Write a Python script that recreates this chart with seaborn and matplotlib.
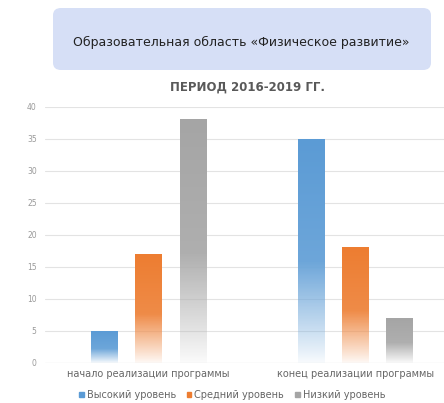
import numpy as np
import pandas as pd
import matplotlib
matplotlib.use("Agg")
import matplotlib.pyplot as plt
from matplotlib.patches import FancyBboxPatch, Rectangle
from matplotlib.colors import to_rgb
import seaborn as sns

categories = ["начало реализации программы", "конец реализации программы"]
levels = ["Высокий уровень", "Средний уровень", "Низкий уровень"]
high_vals = [5, 35]
mid_vals = [17, 18]
low_vals = [38, 7]
colors = ["#5B9BD5", "#ED7D31", "#A5A5A5"]
y_ticks = [0, 5, 10, 15, 20, 25, 30, 35, 40]

rows = []
for lvl, vals in zip(levels, [high_vals, mid_vals, low_vals]):
    for cat, v in zip(categories, vals):
        rows.append({"cat": cat, "level": lvl, "value": v})
df = pd.DataFrame(rows)

sns.set_style("white")
plt.rcParams["font.family"] = ["DejaVu Sans"]

fig = plt.figure(figsize=(4.44, 4.03), dpi=100)
ax = fig.add_axes([45 / 444, 1 - 363 / 403, 399 / 444, 256 / 403])

sns.barplot(data=df, x="cat", y="value", hue="level", order=categories,
            hue_order=levels, palette=colors, width=0.645, gap=0.41,
            saturation=1, legend=False, ax=ax)

# gradient fill: solid on top, fading to white at the base
for bar in list(ax.patches):
    x0, w, h = bar.get_x(), bar.get_width(), bar.get_height()
    rgb = to_rgb(bar.get_facecolor())
    n = 200
    t = np.linspace(0, 1, n)[:, None]  # 0 bottom, 1 top
    alpha = np.clip(t / 0.45, 0, 1) ** 0.9
    alpha = 0.05 + 0.95 * alpha
    lighten = 0.8 + 0.2 * t
    img = np.zeros((n, 1, 4))
    for k in range(3):
        img[:, :, k] = 1 - (1 - rgb[k]) * lighten
    img[:, :, 3] = alpha
    ax.imshow(img, extent=[x0, x0 + w, 0, h], origin="lower",
              aspect="auto", interpolation="bilinear", zorder=3)
    bar.set_visible(False)
ax.set_xlim(-0.5, 1.43)
ax.set_ylim(0, 40)

ax.set_yticks(y_ticks)
ax.yaxis.grid(True, color="#E3E3E3", linewidth=0.8)
ax.set_axisbelow(True)
sns.despine(ax=ax, left=True, bottom=True, top=True, right=True)
ax.axhline(0, color="#D9D9D9", linewidth=0.8, zorder=1)
ax.tick_params(axis="y", labelsize=5.5, labelcolor="#999999", length=0, pad=6)
ax.tick_params(axis="x", labelsize=7, labelcolor="#666666", length=0, pad=4)
ax.set_xlabel("")
ax.set_ylabel("")

# legend
handles = [Rectangle((0, 0), 1, 1, color=c) for c in colors]
fig.legend(handles, levels, loc="center", bbox_to_anchor=(232 / 444, 1 - 395 / 403),
           ncol=3, frameon=False, fontsize=7, handlelength=0.5, handleheight=0.5,
           handletextpad=0.3, columnspacing=1.1, labelcolor="#666666")

# title box
box = FancyBboxPatch((53 / 444, 1 - 70 / 403), 378 / 444, 62 / 403,
                     boxstyle="round,pad=0,rounding_size=0.018",
                     transform=fig.transFigure, facecolor="#D6DFF6",
                     edgecolor="none")
fig.patches.append(box)
fig.text(241 / 444, 1 - 42 / 403, "Образовательная область «Физическое развитие»",
         ha="center", va="center", fontsize=9, color="#222222")
fig.text(248 / 444, 1 - 87 / 403, "ПЕРИОД 2016-2019 ГГ.",
         ha="center", va="center", fontsize=8.5, fontweight="bold", color="#595959")

fig.savefig("out.png", dpi=100)
